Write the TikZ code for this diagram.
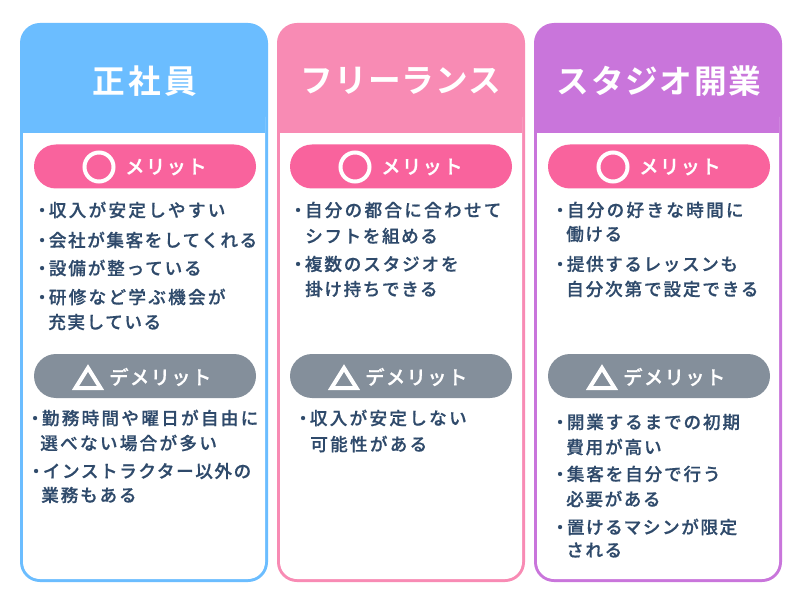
\documentclass[tikz,border=0pt]{standalone}
\usepackage{fontspec}
\newfontfamily\bodyf[LetterSpace=9,FakeBold=0.6]{Noto Sans CJK JP Medium}
\newfontfamily\bodyw[LetterSpace=13,FakeBold=0.6]{Noto Sans CJK JP Medium}
\newfontfamily\bodym[LetterSpace=10.5,FakeBold=0.6]{Noto Sans CJK JP Medium}
\newfontfamily\pillf[LetterSpace=7,FakeBold=0.8]{Noto Sans CJK JP Medium}
\newfontfamily\headf[LetterSpace=5]{Noto Sans CJK JP Bold}
\newfontfamily\headg[LetterSpace=10]{Noto Sans CJK JP Bold}
\newfontfamily\headk[LetterSpace=3]{Noto Sans CJK JP Bold}
\newcommand{\bu}{・\hspace{-1.5pt}}
\newcommand{\wide}{\bodyw\fontsize{13.2pt}{13.2pt}\selectfont}
\newcommand{\midw}{\bodym\fontsize{13.2pt}{13.2pt}\selectfont}
\definecolor{cblue}{HTML}{6BBDFF}
\definecolor{cpink}{HTML}{F88BB4}
\definecolor{cpurple}{HTML}{C975DB}
\definecolor{pillpink}{HTML}{F9639D}
\definecolor{pillgray}{HTML}{848F9B}
\definecolor{ink}{HTML}{2F4A6B}
\tikzset{
  x=0.75pt,y=-0.75pt,
  line/.style={anchor=west,inner sep=0pt,text=ink,font=\bodyf\fontsize{13.2pt}{13.2pt}\selectfont},
  head/.style={anchor=center,inner sep=0pt,text=white},
  pilltext/.style={anchor=west,inner sep=0pt,text=white,font=\pillf\fontsize{14.5pt}{14.5pt}\selectfont},
  pill/.style={rounded corners=16.5pt},
}
\newcommand{\card}[2]{% left x, colour
  \fill[#2,rounded corners=15pt] (#1,23) rectangle (#1+248,582);
  \fill[white,rounded corners=12.75pt] (#1+3,100) rectangle (#1+245,579);
  \fill[#2] (#1+3,90) rectangle (#1+245,133);
}
\newcommand{\pills}[1]{% left x of pill
  \fill[pillpink,pill] (#1,144.5) rectangle (#1+222,188.5);
  \fill[pillgray,pill] (#1,354) rectangle (#1+222,398);
  \draw[line width=3pt,white] (#1+65,167) circle (14.5);
  \draw[line width=3pt,white,line join=miter] (#1+41.5,388) -- (#1+54,368) -- (#1+66.5,388) -- cycle;
}
\begin{document}
\begin{tikzpicture}
\useasboundingbox (0,0) rectangle (800,606);
\fill[white] (0,0) rectangle (800,606);
\card{20}{cblue}
\card{277}{cpink}
\card{534}{cpurple}
\pills{34}
\pills{290}
\pills{548}
\node[head,font=\headg\fontsize{24.5pt}{24.5pt}\selectfont] (h1) at (145,81) {正社員};
\node[head,font=\headk\fontsize{24.5pt}{24.5pt}\selectfont] (h2) at (401,81) {フリーランス};
\node[head,font=\headf\fontsize{24.5pt}{24.5pt}\selectfont] (h3) at (659,81) {スタジオ開業};
\node[pilltext] (m1) at (125,167) {メリット};
\node[pilltext] (m2) at (381,167) {メリット};
\node[pilltext] (m3) at (639,167) {メリット};
\node[pilltext] (d1) at (109,377) {デメリット};
\node[pilltext] (d2) at (365,377) {デメリット};
\node[pilltext] (d3) at (623,377) {デメリット};
% column 1
\node[line] (a1) at (33,210) {\wide\bu 収入が安定しやすい};
\node[line] (a2) at (33,240) {\bu 会社が集客をしてくれる};
\node[line] (a3) at (33,268) {\midw\bu 設備が整っている};
\node[line] (a4) at (33,297) {\wide\bu 研修など学ぶ機会が};
\node[line] (a5) at (48,322) {充実している};
\node[line] (a6) at (26,418) {\wide\bu 勤務時間や曜日が自由に};
\node[line] (a7) at (40,443) {\wide 選べない場合が多い};
\node[line] (a8) at (27,471) {\bu インストラクター以外の};
\node[line] (a9) at (41,495) {\midw 業務もある};
% column 2
\node[line] (b1) at (289,210) {\wide\bu 自分の都合に合わせて};
\node[line] (b2) at (305,236) {シフトを組める};
\node[line] (b3) at (289,264) {\midw\bu 複数のスタジオを};
\node[line] (b4) at (305,289) {掛け持ちできる};
\node[line] (b5) at (294,418) {\wide\bu 収入が安定しない};
\node[line] (b6) at (310,444) {\wide 可能性がある};
% column 3
\node[line] (c1) at (551,210) {\wide\bu 自分の好きな時間に};
\node[line] (c2) at (566,234) {働ける};
\node[line] (c3) at (551,264) {\bu 提供するレッスンも};
\node[line] (c4) at (566,289) {\midw 自分次第で設定できる};
\node[line] (c5) at (551,422) {\midw\bu 開業するまでの初期};
\node[line] (c6) at (566,447) {\midw 費用が高い};
\node[line] (c7) at (551,474) {\midw\bu 集客を自分で行う};
\node[line] (c8) at (566,499) {必要がある};
\node[line] (c9) at (551,527) {\bu 置けるマシンが限定};
\node[line] (c10) at (566,550) {される};
\end{tikzpicture}
\end{document}
